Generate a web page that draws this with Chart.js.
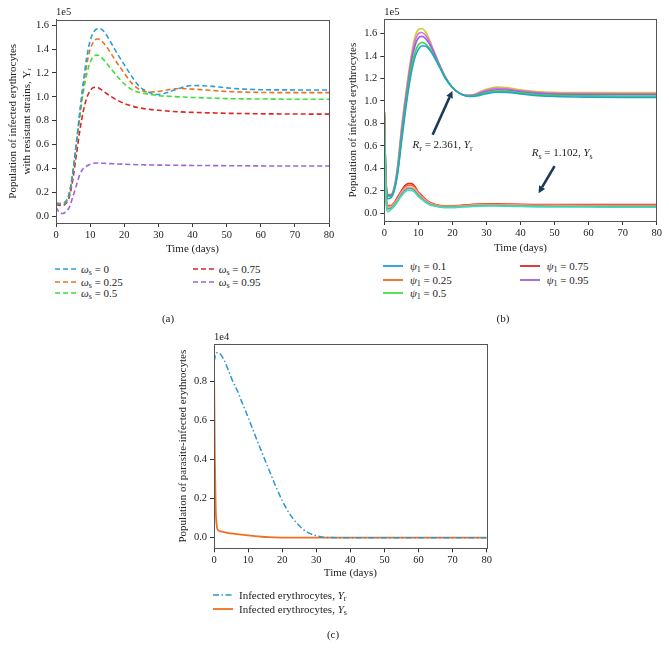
<!DOCTYPE html>
<html><head><meta charset="utf-8">
<script src="https://cdn.jsdelivr.net/npm/chart.js@4.4.1/dist/chart.umd.min.js"></script>
<style>
body{margin:0;background:#fff;width:669px;height:656px;position:relative;overflow:hidden;font-family:"Liberation Serif",serif;color:#222}
canvas{position:absolute}
.leg{position:absolute;font-size:11px;line-height:12px;white-space:nowrap;transform:translateY(-50%);display:flex;align-items:center}
.leg sub{font-size:8px;vertical-align:-2px;line-height:0}
.cap{position:absolute;font-size:11px;transform:translate(-50%,-50%)}
</style></head><body>
<canvas id="ca" width="340" height="260" style="left:0;top:0"></canvas>
<canvas id="cb" width="329" height="260" style="left:340px;top:0"></canvas>
<canvas id="cc" width="340" height="270" style="left:160px;top:320px"></canvas>
<div id="legs"></div>
<div class="cap" style="left:168px;top:318px">(a)</div>
<div class="cap" style="left:503px;top:318px">(b)</div>
<div class="cap" style="left:333px;top:634px">(c)</div>
<script>
const F = '"Liberation Serif", "DejaVu Serif", serif';
// ---------- data ----------
const xTicks = [0,10,20,30,40,50,60,70,80];
const yTicksAB = [0,0.2,0.4,0.6,0.8,1.0,1.2,1.4,1.6];
const yTicksC = [0,0.2,0.4,0.6,0.8];

// (a) Y_r (x1e5) for omega_s
const tA = [0,1,2,3,4,5,6,7,8,9,10,11,12,13,14,16,18,20,22,24,26,28,30,33,36,40,45,50,55,60,70,80];
const omegaLabels = ['0','0.25','0.5','0.75','0.95'];
const a_w0   = [.105,.10,.10,.12,.20,.38,.62,.88,1.12,1.33,1.47,1.54,1.57,1.57,1.55,1.46,1.36,1.27,1.18,1.10,1.055,1.03,1.02,1.04,1.07,1.095,1.09,1.075,1.065,1.06,1.058,1.058];
const a_w025 = [.11,.105,.105,.125,.20,.38,.61,.86,1.09,1.27,1.40,1.46,1.485,1.48,1.45,1.37,1.28,1.20,1.12,1.07,1.045,1.04,1.045,1.06,1.07,1.065,1.055,1.045,1.04,1.037,1.035,1.035];
const a_w05  = [.11,.105,.11,.13,.20,.38,.60,.84,1.04,1.19,1.29,1.34,1.35,1.34,1.31,1.24,1.17,1.11,1.065,1.04,1.028,1.018,1.01,1.005,1.0,.995,.99,.985,.983,.982,.98,.98];
const a_w075 = [.10,.09,.09,.11,.17,.32,.52,.72,.88,.99,1.05,1.078,1.08,1.065,1.045,1.005,.972,.945,.925,.91,.90,.893,.888,.88,.875,.87,.866,.862,.86,.858,.856,.855];
const a_w095 = [.075,.03,.022,.04,.08,.17,.26,.35,.40,.42,.435,.443,.445,.445,.443,.44,.437,.435,.433,.431,.43,.429,.428,.427,.426,.425,.424,.423,.422,.421,.42,.42];
const aSeries = [a_w0,a_w025,a_w05,a_w075,a_w095];
const aColors = ['#2a9fd8','#f0701e','#3ae03a','#de2424','#9a66dc'];

// (b) infected erythrocytes (x1e5) for psi_1
const tB = [0,0.5,1,2,3,4,5,6,7,8,9,10,11,12,13,14,16,18,20,22,24,26,28,30,33,36,40,45,50,60,70,80];
const psiLabels = ['0.1','0.25','0.5','0.75','0.95'];
const psiColors = ['#1fa0da','#ee6a1e','#3ee23e','#e02424','#9a62e0'];
const bYr_1 = [.9,.27,.13,.14,.21,.37,.62,.86,1.08,1.26,1.39,1.46,1.49,1.49,1.465,1.425,1.315,1.2,1.12,1.07,1.045,1.04,1.05,1.065,1.078,1.077,1.063,1.048,1.04,1.034,1.032,1.032];
const bYr_2 = [.9,.28,.15,.15,.22,.39,.65,.9,1.12,1.31,1.43,1.5,1.52,1.51,1.48,1.435,1.32,1.2,1.12,1.07,1.047,1.045,1.058,1.075,1.088,1.087,1.072,1.058,1.05,1.046,1.045,1.045];
const bYr_3 = [.9,.29,.16,.16,.23,.41,.69,.94,1.16,1.36,1.49,1.56,1.575,1.56,1.52,1.465,1.33,1.205,1.12,1.07,1.048,1.048,1.066,1.085,1.1,1.098,1.082,1.068,1.061,1.058,1.058,1.058];
const bYr_4 = [.9,.3,.165,.165,.24,.43,.72,.97,1.19,1.39,1.53,1.6,1.61,1.59,1.545,1.48,1.335,1.21,1.12,1.07,1.05,1.052,1.073,1.095,1.112,1.108,1.09,1.076,1.069,1.066,1.065,1.065];
const bYr_5 = [.9,.3,.17,.17,.25,.45,.75,1.0,1.22,1.42,1.57,1.635,1.645,1.62,1.565,1.49,1.34,1.21,1.12,1.07,1.05,1.055,1.08,1.105,1.125,1.12,1.1,1.085,1.078,1.075,1.075,1.075];
const bYs_1 = [.9,.12,.015,.035,.065,.11,.155,.19,.205,.203,.185,.15,.124,.1,.081,.069,.056,.051,.051,.054,.058,.061,.064,.066,.065,.063,.061,.058,.057,.056,.055,.055];
const bYs_2 = [.9,.15,.04,.048,.077,.12,.168,.205,.222,.22,.2,.163,.135,.108,.088,.075,.061,.056,.056,.059,.063,.066,.069,.071,.07,.068,.066,.064,.063,.062,.062,.062];
const bYs_3 = [.9,.17,.055,.057,.085,.13,.18,.218,.235,.235,.213,.175,.145,.117,.095,.081,.066,.06,.06,.063,.067,.071,.074,.076,.075,.073,.071,.07,.069,.068,.068,.068];
const bYs_4 = [.9,.19,.065,.065,.095,.14,.19,.23,.25,.25,.227,.185,.153,.124,.1,.086,.07,.064,.064,.068,.073,.077,.08,.082,.081,.079,.077,.075,.074,.074,.074,.074];
const bYs_5 = [.9,.2,.07,.07,.1,.15,.2,.245,.265,.265,.24,.19,.16,.13,.105,.09,.072,.066,.066,.07,.075,.08,.083,.085,.084,.082,.08,.079,.078,.078,.078,.078];
const bYrSeries = [bYr_1,bYr_2,bYr_3,bYr_4,bYr_5];
const bYsSeries = [bYs_1,bYs_2,bYs_3,bYs_4,bYs_5];
const bYrColors = ['#1fa7c4','#3fd24a','#9b5de5','#dd6fdd','#c9cf2e'];
const bYsColors = ['#3de0b0','#8c8c8c','#f1b8b8','#f46d2a','#e8281c'];

// (c) parasite-infected erythrocytes (x1e4)
const tC = [0,0.5,1,2,3,4,5,6,7,8,10,12,14,16,18,20,22,24,26,28,30,32,34,36,40,50,60,70,80];
const cYr = [.90,.935,.945,.935,.905,.865,.82,.78,.745,.70,.615,.525,.438,.352,.267,.19,.127,.08,.045,.022,.01,.003,.001,0,0,0,0,0,0];
const tCs = [0,0.1,0.25,0.5,0.75,1,1.5,2,3,4,5,6,8,10,12,14,16,20,25,30,40,50,60,70,80];
const cYs = [.9,.7,.4,.15,.07,.045,.035,.032,.028,.025,.022,.02,.016,.012,.008,.005,.003,.001,0,0,0,0,0,0,0];

// ---------- helpers ----------
Chart.defaults.font.family = F;
Chart.defaults.color = '#222';
const pts = (t, v) => t.map((x, i) => ({x, y: v[i]}));
function xScale(h, titlePad){
  return {type:'linear',min:0,max:80,
    afterBuildTicks:s=>{s.ticks = xTicks.map(v=>({value:v}));},
    afterFit:s=>{s.height=h;},
    grid:{display:true,drawOnChartArea:false,drawTicks:true,tickLength:4,color:'#333'},
    border:{display:true,color:'#555',width:1},
    ticks:{autoSkip:false,maxRotation:0,padding:2,color:'#222',font:{family:F,size:10.5},callback:v=>String(v)},
    title:{display:true,text:'Time (days)',color:'#222',font:{family:F,size:11,lineHeight:1.27},padding:{top:0,bottom:titlePad}}};
}
function yScale(min,max,ticks,w,title,titlePad){
  return {type:'linear',min,max,
    afterBuildTicks:s=>{s.ticks = ticks.map(v=>({value:v}));},
    afterFit:s=>{s.width=w;},
    grid:{display:true,drawOnChartArea:false,drawTicks:true,tickLength:4,color:'#333'},
    border:{display:true,color:'#555',width:1},
    ticks:{padding:3,color:'#222',font:{family:F,size:10.5},callback:v=>Number(v).toFixed(1)},
    title:{display:true,text:title,color:'#222',font:{family:F,size:11,lineHeight:1.27},padding:{top:titlePad,bottom:0}}};
}
function framePlugin(expLabel){
  return {id:'frame',afterDraw(chart){
    const {ctx, chartArea:a} = chart;
    ctx.save();
    ctx.strokeStyle='#555'; ctx.lineWidth=1;
    ctx.strokeRect(Math.round(a.left)+0.5, Math.round(a.top)+0.5, Math.round(a.right-a.left), Math.round(a.bottom-a.top));
    ctx.fillStyle='#222'; ctx.font='10.5px '+F; ctx.textAlign='left'; ctx.textBaseline='bottom';
    ctx.fillText(expLabel, a.left, a.top-2);
    ctx.restore();
  }};
}
const baseOpts = (padRight, padTop) => ({responsive:false,animation:false,devicePixelRatio:1,
  layout:{padding:{left:0,right:padRight,top:padTop,bottom:0}},
  plugins:{legend:{display:false},tooltip:{enabled:false}},
  elements:{point:{radius:0},line:{cubicInterpolationMode:'monotone'}}});

// ---------- (a) ----------
new Chart(document.getElementById('ca'), {
  type:'line',
  data:{datasets: aSeries.map((s,i)=>({label:'ωs = '+omegaLabels[i], data:pts(tA,s), borderColor:aColors[i], borderWidth:1.6, borderDash:[5,3], fill:false}))},
  options:Object.assign(baseOpts(11,19.6),{scales:{
    x:xScale(37,3.7),
    y:yScale(-0.0575,1.6475,yTicksAB,56,['Population of infected erythrocytes','with resistant strains, Yᵣ'],6)}}),
  plugins:[framePlugin('1e5')]
});

// ---------- (b) ----------
function drawRich(ctx, x, y, segs, size){
  let cx = x;
  for (const s of segs){
    const fs = s.sub ? size*0.72 : size;
    ctx.font = (s.it?'italic ':'') + fs + 'px ' + F;
    ctx.fillText(s.t, cx, y + (s.sub ? size*0.3 : 0));
    cx += ctx.measureText(s.t).width;
  }
}
function arrow(ctx, x1, y1, x2, y2){
  const ang = Math.atan2(y2-y1, x2-x1), hl = 7, hw = 3.5;
  const bx = x2 - hl*Math.cos(ang), by = y2 - hl*Math.sin(ang);
  ctx.beginPath(); ctx.moveTo(x1,y1); ctx.lineTo(bx,by); ctx.stroke();
  ctx.beginPath(); ctx.moveTo(x2,y2);
  ctx.lineTo(bx + hw*Math.sin(ang), by - hw*Math.cos(ang));
  ctx.lineTo(bx - hw*Math.sin(ang), by + hw*Math.cos(ang));
  ctx.closePath(); ctx.fill();
}
const annots = {id:'annots', afterDatasetsDraw(chart){
  const {ctx, scales:{x,y}} = chart;
  ctx.save();
  ctx.strokeStyle='#1b3a57'; ctx.fillStyle='#1b3a57'; ctx.lineWidth=2.6;
  arrow(ctx, x.getPixelForValue(14.2), y.getPixelForValue(0.70), x.getPixelForValue(20), y.getPixelForValue(1.09));
  arrow(ctx, x.getPixelForValue(50), y.getPixelForValue(0.42), x.getPixelForValue(45.3), y.getPixelForValue(0.18));
  ctx.fillStyle='#222'; ctx.textBaseline='middle'; ctx.textAlign='left';
  drawRich(ctx, x.getPixelForValue(8.3), y.getPixelForValue(0.607), [{t:'R',it:true},{t:'r',sub:true},{t:' = 2.361, '},{t:'Y',it:true},{t:'r',sub:true}], 11);
  drawRich(ctx, x.getPixelForValue(43.3), y.getPixelForValue(0.533), [{t:'R',it:true},{t:'s',sub:true},{t:' = 1.102, '},{t:'Y',it:true},{t:'s',sub:true}], 11);
  ctx.restore();
}};
const bSets = [];
bYsSeries.forEach((s,i)=>bSets.push({label:'Ys ψ1 = '+psiLabels[i], data:pts(tB,s), borderColor:bYsColors[i], borderWidth:1.6, fill:false}));
bYrSeries.forEach((s,i)=>bSets.push({label:'Yr ψ1 = '+psiLabels[i], data:pts(tB,s), borderColor:bYrColors[i], borderWidth:1.6, fill:false}));
new Chart(document.getElementById('cb'), {
  type:'line',
  data:{datasets:bSets},
  options:Object.assign(baseOpts(12.3,19.3),{scales:{
    x:xScale(39,4.7),
    y:yScale(-0.068,1.727,yTicksAB,44.3,'Population of infected erythrocytes',6)}}),
  plugins:[framePlugin('1e5'), annots]
});

// ---------- (c) ----------
new Chart(document.getElementById('cc'), {
  type:'line',
  data:{datasets:[
    {label:'Infected erythrocytes, Yr', data:pts(tC,cYr), borderColor:'#2a98d4', borderWidth:1.5, borderDash:[6,2.5,1.5,2.5], fill:false},
    {label:'Infected erythrocytes, Ys', data:pts(tCs,cYs), borderColor:'#f07020', borderWidth:1.8, fill:false}]},
  options:Object.assign(baseOpts(13.3,24),{scales:{
    x:xScale(41.7,10),
    y:yScale(-0.054,0.989,yTicksC,54,'Population of parasite-infected erythrocytes',16.3)}}),
  plugins:[framePlugin('1e4')]
});

// ---------- HTML legends ----------
const legs = document.getElementById('legs');
function lineSvg(w, color, dash, lw){
  return `<svg width="${w}" height="6" style="display:block"><line x1="0" y1="3" x2="${w}" y2="3" stroke="${color}" stroke-width="${lw}" ${dash?`stroke-dasharray="${dash}"`:''}/></svg>`;
}
function addLeg(x, y, w, gap, svg, html){
  const d = document.createElement('div');
  d.className='leg'; d.style.left=x+'px'; d.style.top=y+'px';
  d.innerHTML = svg + `<span style="margin-left:${gap}px">${html}</span>`;
  legs.appendChild(d);
}
const aPos = [[55,269],[55,281.7],[55,293.3],[192.7,269],[192.7,281.7]];
omegaLabels.forEach((l,i)=>addLeg(aPos[i][0], aPos[i][1], 22, 4, lineSvg(22, aColors[i], '5,3', 1.6), `<i>ω</i><sub>s</sub> = ${l}`));
const bPos = [[383.3,265.7],[383.3,280],[383.3,293.3],[520,265.7],[520,280]];
psiLabels.forEach((l,i)=>addLeg(bPos[i][0], bPos[i][1], 20, 6.7, lineSvg(20, psiColors[i], null, 1.8), `<i>ψ</i><sub>1</sub> = ${l}`));
addLeg(213, 595, 20, 6, lineSvg(20, '#2a98d4', '6,2.5,1.5,2.5', 1.5), 'Infected erythrocytes, <i>Y</i><sub>r</sub>');
addLeg(213, 609, 20, 6, lineSvg(20, '#f07020', null, 1.8), 'Infected erythrocytes, <i>Y</i><sub>s</sub>');
</script>
</body></html>
